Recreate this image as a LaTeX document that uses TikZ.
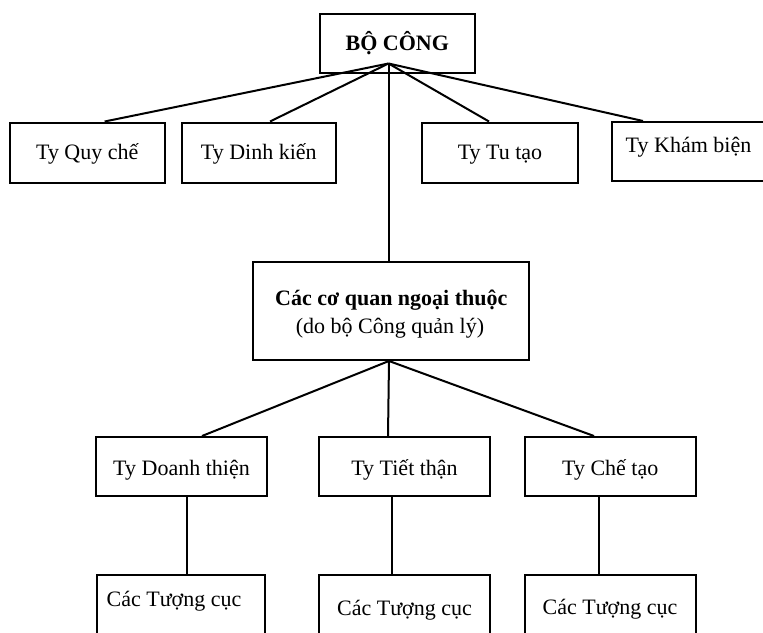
\documentclass[tikz,border=0pt]{standalone}
\usepackage{fontspec}
\setmainfont{Liberation Serif}
\begin{document}
\begin{tikzpicture}[x=1pt,y=-1pt,
  box/.style={draw, line width=2pt, rectangle, inner sep=0pt},
  lbl/.style={font=\fontsize{22}{29}\selectfont, text height=14.6pt, text depth=0pt, inner sep=0pt},
  basetxt/.style={font=\fontsize{22}{29}\selectfont, inner sep=0pt, anchor=base},
  conn/.style={line width=2pt},
  vconn/.style={line width=2pt}]
\clip (0,0) rectangle (763,632);
\useasboundingbox (0,0) rectangle (763,632);

% top
\node[box, lbl, minimum width=154.5pt, minimum height=59pt] (bo) at (397.25,43) {\bfseries BỘ CÔNG};
\coordinate (apex) at (388.5,63.5);

% level 1
\node[box, lbl, minimum width=154.5pt, minimum height=60pt] (qc) at (87.25,152.5) {Ty Quy chế};
\node[box, lbl, minimum width=154.5pt, minimum height=60pt] (dk) at (258.75,152.5) {Ty Dinh kiến};
\node[box, lbl, minimum width=156pt, minimum height=60pt] (tt) at (500,152.5) {Ty Tu tạo};
\node[box, minimum width=163pt, minimum height=59pt] (kb) at (693.5,151.5) {};
\node[lbl] (kbt) at (688.5,145.5) {Ty Khám biện};

% middle
\node[box, minimum width=276pt, minimum height=98pt] (cq) at (391,311) {};
\node[basetxt] (cq1) at (391.3,305) {\bfseries Các cơ quan ngoại thuộc};
\node[basetxt] (cq2) at (390,333.3) {(do bộ Công quản lý)};

% level 2
\node[box, minimum width=171pt, minimum height=59pt] (dt) at (181.5,466.5) {};
\node[box, minimum width=171pt, minimum height=59pt] (tth) at (404.5,466.5) {};
\node[box, minimum width=171.5pt, minimum height=59pt] (ct) at (610.25,466.5) {};
\node[lbl] (dtt) at (181.5,468.5) {Ty Doanh thiện};
\node[lbl] (ttht) at (404.5,468.5) {Ty Tiết thận};
\node[lbl] (ctt) at (610.25,468.5) {Ty Chế tạo};

% level 3
\node[box, minimum width=168.5pt, minimum height=60pt] (tc1) at (181,605) {};
\node[box, minimum width=171pt, minimum height=60pt] (tc2) at (404.5,605) {};
\node[box, minimum width=171.5pt, minimum height=60pt] (tc3) at (610.5,605) {};
\node[lbl] (tc1t) at (174,599) {Các Tượng cục};
\node[lbl] (tc2t) at (404.5,608) {Các Tượng cục};
\node[lbl] (tc3t) at (610,606.7) {Các Tượng cục};

% connectors top
\draw[conn] (apex) -- ([xshift=17.4pt]qc.north);
\draw[conn] (apex) -- ([xshift=11.25pt]dk.north);
\draw[conn] (apex) -- ([xshift=-11pt]tt.north);
\draw[conn] (apex) -- ([xshift=-50.5pt]kb.north);
\draw[vconn] (apex) -- ([xshift=-2.5pt]cq.north);

% connectors middle
\coordinate (cqb) at ([xshift=-2pt]cq.south);
\draw[conn] (cqb) -- ([xshift=20.5pt]dt.north);
\draw[vconn] (cqb) -- ([xshift=-16.5pt]tth.north);
\draw[conn] (cqb) -- ([xshift=-16.25pt]ct.north);

% connectors bottom
\coordinate (d1) at ([xshift=5pt]dt.south);
\coordinate (d2) at ([xshift=-12.5pt]tth.south);
\coordinate (d3) at ([xshift=-11.75pt]ct.south);
\draw[vconn] (d1) -- (d1 |- tc1.north);
\draw[vconn] (d2) -- (d2 |- tc2.north);
\draw[vconn] (d3) -- (d3 |- tc3.north);
\end{tikzpicture}
\end{document}
